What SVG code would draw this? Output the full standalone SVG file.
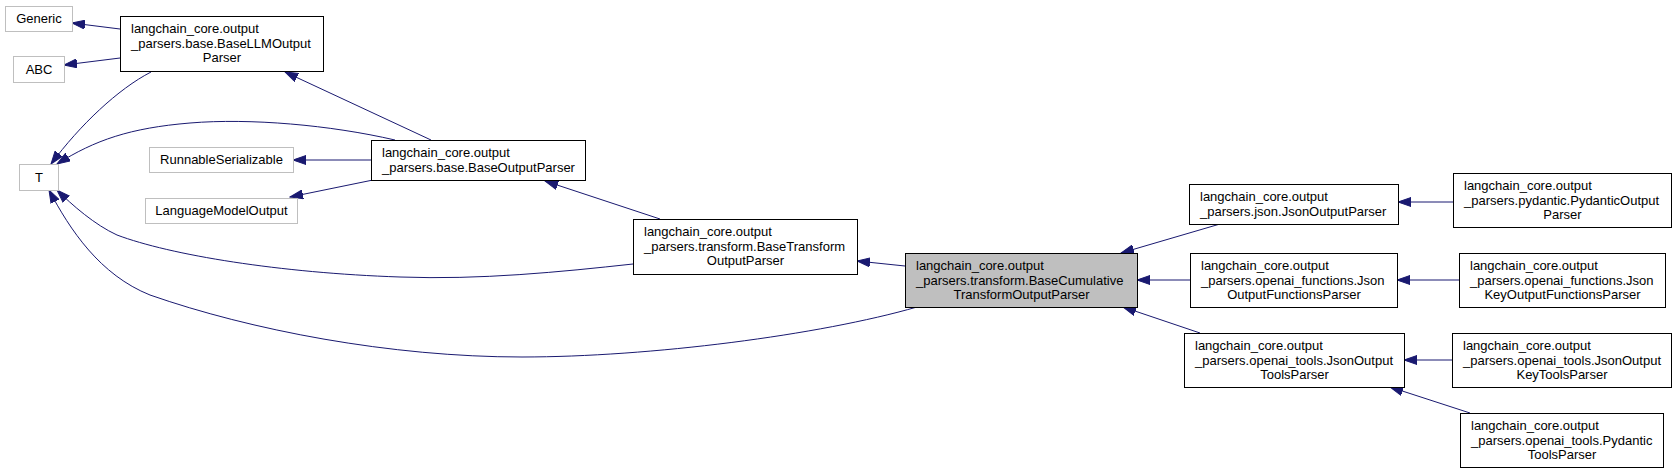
<svg xmlns="http://www.w3.org/2000/svg" width="1677" height="473" viewBox="0 0 1677 473">
<style>
text{font-family:"Liberation Sans",Arial,sans-serif;font-size:13px;fill:#000}
.n{fill:#fff;stroke:#000;stroke-width:1}
.g{fill:#fff;stroke:#bfbfbf;stroke-width:1}
.cur{fill:#bfbfbf;stroke:#000;stroke-width:1}
.m{text-anchor:middle}
.e{fill:none;stroke:#191970;stroke-width:1;marker-end:url(#ah)}
</style>
<defs>
<marker id="ah" markerUnits="userSpaceOnUse" markerWidth="14" markerHeight="10" refX="13" refY="5" orient="auto">
<path d="M0,0.5 L13,5 L0,9.5 z" fill="#191970" stroke="#191970" stroke-width="1"/>
</marker>
</defs>
<rect width="1677" height="473" fill="#fff"/>
<g id="connectors">
<path class="e" d="M120,29 L72,23"/>
<path class="e" d="M120,58 L64,65"/>
<path class="e" d="M151,72 C118,89 80,125 51,164"/>
<path class="e" d="M431,140 L285,72"/>
<path class="e" d="M395,140 C330,125 250,118 190,123 C130,128 95,140 57,164"/>
<path class="e" d="M371,160 L293,160"/>
<path class="e" d="M373,180 L290,197"/>
<path class="e" d="M660,219 L545,181"/>
<path class="e" d="M633,264 C560,272 480,280 400,277 C280,273 170,255 117,235 C95,225 72,205 57,190"/>
<path class="e" d="M905,266 L857,261"/>
<path class="e" d="M917,307 C820,335 650,357 522,357 C390,357 250,330 150,295 C100,275 70,230 49,190"/>
<path class="e" d="M1220,224 L1121,253"/>
<path class="e" d="M1190,280 L1137,280"/>
<path class="e" d="M1200,333 L1123,307"/>
<path class="e" d="M1453,202 L1398,202"/>
<path class="e" d="M1459,280 L1397,280"/>
<path class="e" d="M1452,360 L1404,360"/>
<path class="e" d="M1470,413 L1390,387"/>
</g>
<g id="Generic"><rect class="g" x="5.5" y="6.5" width="67" height="25"/><text class="m" x="39" y="23">Generic</text></g>
<g id="ABC"><rect class="g" x="13.5" y="56.5" width="51" height="26"/><text class="m" x="39" y="74">ABC</text></g>
<g id="T"><rect class="g" x="19.5" y="164.5" width="39" height="26"/><text class="m" x="39" y="182">T</text></g>
<g id="RunnableSerializable"><rect class="g" x="149.5" y="147.5" width="144" height="25"/><text class="m" x="221.5" y="164">RunnableSerializable</text></g>
<g id="LanguageModelOutput"><rect class="g" x="145.5" y="198.5" width="152" height="25"/><text class="m" x="221.5" y="215">LanguageModelOutput</text></g>
<g id="BaseLLMOutputParser"><rect class="n" x="120.5" y="16.5" width="203" height="55"/>
<text x="131" y="33">langchain_core.output</text><text x="131" y="47.5">_parsers.base.BaseLLMOutput</text><text class="m" x="222" y="62">Parser</text></g>
<g id="BaseOutputParser"><rect class="n" x="371.5" y="140.5" width="214" height="40"/>
<text x="382" y="157">langchain_core.output</text><text x="382" y="171.5">_parsers.base.BaseOutputParser</text></g>
<g id="BaseTransformOutputParser"><rect class="n" x="633.5" y="219.5" width="224" height="55"/>
<text x="644" y="236">langchain_core.output</text><text x="644" y="250.5">_parsers.transform.BaseTransform</text><text class="m" x="745.5" y="265">OutputParser</text></g>
<g id="BaseCumulativeTransformOutputParser"><rect class="cur" x="905.5" y="253.5" width="232" height="54"/>
<text x="916" y="270">langchain_core.output</text><text x="916" y="284.5">_parsers.transform.BaseCumulative</text><text class="m" x="1021.5" y="299">TransformOutputParser</text></g>
<g id="JsonOutputParser"><rect class="n" x="1189.5" y="184.5" width="209" height="40"/>
<text x="1200" y="201">langchain_core.output</text><text x="1200" y="215.5">_parsers.json.JsonOutputParser</text></g>
<g id="JsonOutputFunctionsParser"><rect class="n" x="1190.5" y="253.5" width="207" height="54"/>
<text x="1201" y="270">langchain_core.output</text><text x="1201" y="284.5">_parsers.openai_functions.Json</text><text class="m" x="1294" y="299">OutputFunctionsParser</text></g>
<g id="JsonOutputToolsParser"><rect class="n" x="1184.5" y="333.5" width="220" height="54"/>
<text x="1195" y="350">langchain_core.output</text><text x="1195" y="364.5">_parsers.openai_tools.JsonOutput</text><text class="m" x="1294.5" y="379">ToolsParser</text></g>
<g id="PydanticOutputParser"><rect class="n" x="1453.5" y="173.5" width="218" height="54"/>
<text x="1464" y="190">langchain_core.output</text><text x="1464" y="204.5">_parsers.pydantic.PydanticOutput</text><text class="m" x="1562.5" y="219">Parser</text></g>
<g id="JsonKeyOutputFunctionsParser"><rect class="n" x="1459.5" y="253.5" width="206" height="54"/>
<text x="1470" y="270">langchain_core.output</text><text x="1470" y="284.5">_parsers.openai_functions.Json</text><text class="m" x="1562.5" y="299">KeyOutputFunctionsParser</text></g>
<g id="JsonOutputKeyToolsParser"><rect class="n" x="1452.5" y="333.5" width="219" height="54"/>
<text x="1463" y="350">langchain_core.output</text><text x="1463" y="364.5">_parsers.openai_tools.JsonOutput</text><text class="m" x="1562" y="379">KeyToolsParser</text></g>
<g id="PydanticToolsParser"><rect class="n" x="1460.5" y="413.5" width="203" height="54"/>
<text x="1471" y="430">langchain_core.output</text><text x="1471" y="444.5">_parsers.openai_tools.Pydantic</text><text class="m" x="1562" y="459">ToolsParser</text></g>
</svg>
